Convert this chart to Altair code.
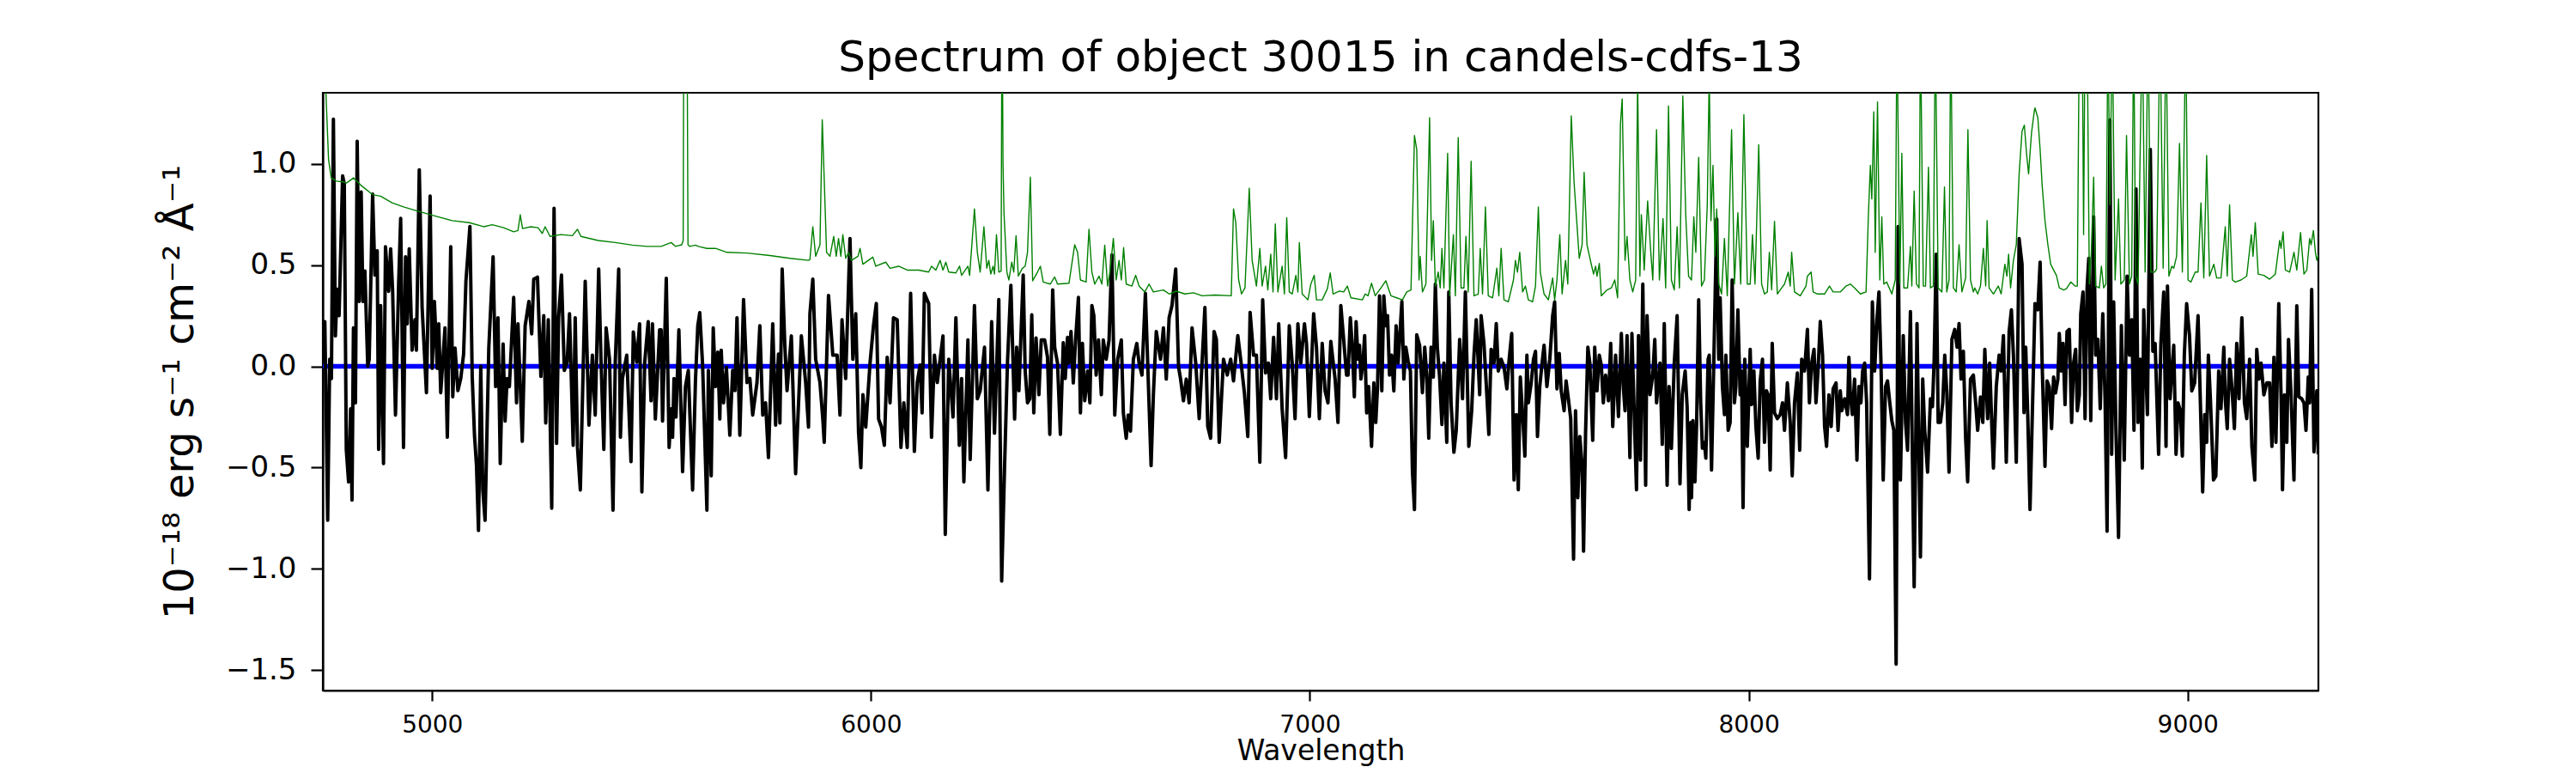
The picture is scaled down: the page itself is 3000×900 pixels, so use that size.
import altair as alt
import pandas as pd

title_text = "Spectrum of object 30015 in candels-cdfs-13"
x_label = "Wavelength"
y_label = "10⁻¹⁸ erg s⁻¹ cm⁻² Å⁻¹"
x_ticks = [5000, 6000, 7000, 8000, 9000]
y_ticks = [-1.5, -1.0, -0.5, 0.0, 0.5, 1.0]
x_range = [4751, 9298]
y_range = [-1.6, 1.35]
zero_level = [0.0, 0.0]

# object flux (black): (wavelength, flux)
flux_points = [
    (4751, 0.03), (4755.5, 0.22), (4762, -0.76), (4766.6, 0.035), (4770.5, -0.06), (4775, 1.22),
    (4779.6, 0.15), (4783.5, 0.38), (4788, 0.25), (4796, 0.94), (4799.8, 0.90), (4804.4, -0.41),
    (4809.6, -0.57), (4814.2, -0.21), (4817.4, -0.66), (4820.7, 0.19), (4825.3, -0.18), (4829.2, 1.11),
    (4833.7, 0.32), (4838.3, 0.86), (4842.2, 0.32), (4846.8, 0.47), (4853.3, 0.0), (4856.6, 0.035),
    (4864.4, 0.85), (4869.6, 0.45), (4874.8, 0.57), (4878.1, -0.41), (4882.6, 0.30), (4889.2, -0.48),
    (4893.7, 0.59), (4900.9, 0.37), (4905.5, 0.58), (4910, 0.37), (4916.5, -0.24), (4923.7, 0.41),
    (4928.3, 0.73), (4934.8, -0.40), (4939.4, 0.54), (4943.3, 0.21), (4947.8, 0.58), (4954.4, 0.08),
    (4960.9, 0.23), (4964.1, 0.08), (4970.7, 0.97), (4977.2, 0.29), (4987, -0.13), (4995.4, 0.84),
    (5000, -0.01), (5005.2, 0.32), (5011.7, -0.01), (5015, 0.21), (5019.6, -0.13), (5029.3, 0.19),
    (5034.6, -0.35), (5042.4, 0.59), (5047, -0.15), (5052.2, 0.09), (5058.7, -0.12), (5065.2, -0.06),
    (5071.7, 0.06), (5077, 0.42), (5086.1, 0.69), (5091.3, -0.05), (5096.5, -0.34), (5101.1, -0.49),
    (5105.6, -0.81), (5110.8, 0.0), (5115.4, -0.61), (5120.6, -0.76), (5129.1, 0.09), (5138.9, 0.54),
    (5144.7, -0.10), (5150, 0.24), (5155.2, -0.48), (5161.7, 0.11), (5166.3, -0.27), (5170.8, -0.06),
    (5176, -0.10), (5185.8, 0.34), (5192.3, -0.18), (5195.6, 0.21), (5205.4, -0.37), (5211.9, 0.20),
    (5220.4, 0.32), (5226.9, 0.16), (5231.5, 0.43), (5240, 0.44), (5247.8, -0.05), (5254.3, 0.25),
    (5258.8, -0.28), (5264.7, 0.23), (5272.5, -0.70), (5277.8, 0.78), (5283.6, -0.38), (5288.2, 0.24),
    (5294.7, 0.45), (5301.2, -0.02), (5307.7, 0.02), (5313, 0.26), (5321.4, -0.39), (5326, 0.24),
    (5331.2, -0.40), (5337.7, -0.61), (5348.8, 0.42), (5357.3, -0.29), (5365.1, 0.055), (5371.6, -0.24),
    (5379.5, 0.48), (5384.7, 0.035), (5391.2, -0.41), (5396.4, 0.19), (5404.2, 0.035), (5412.1, -0.71),
    (5417.3, 0.02), (5425.1, 0.48), (5429, -0.35), (5433.6, -0.06), (5443.4, 0.055), (5453.1, -0.47),
    (5458.4, 0.17), (5466.2, 0.02), (5472.7, 0.21), (5477.9, -0.62), (5484.4, 0.02), (5492.3, 0.22),
    (5498.8, -0.17), (5502, 0.21), (5508.6, -0.26), (5518.3, 0.18),
    (5521.8, 0.18), (5525, -0.27), (5533.5, 0.435), (5540, -0.40), (5544.6, -0.21), (5547.9, -0.35),
    (5551.1, -0.06), (5555.7, -0.25), (5562.2, 0.18), (5570.7, -0.52), (5577.2, -0.10), (5583.7, -0.02),
    (5593.5, -0.61), (5600, -0.07), (5605.3, 0.20), (5609.8, 0.265), (5616.3, 0.006), (5626.1, -0.71),
    (5629.4, -0.02), (5635.9, -0.54), (5640.5, 0.19), (5645.7, -0.10), (5650.9, 0.07), (5655.5, -0.26),
    (5658.7, 0.08), (5664, -0.18), (5670.5, -0.004), (5678.3, -0.34), (5684.8, -0.02), (5690, -0.12),
    (5694.6, 0.24), (5701.1, -0.34), (5709.6, 0.33), (5717.4, -0.08), (5724, -0.06), (5730.4, -0.24),
    (5740.2, -0.08), (5746.7, 0.20), (5753.3, -0.24), (5759.8, -0.18), (5766.3, -0.45), (5776.1, 0.21),
    (5782.6, -0.29), (5789.1, 0.06), (5792.4, -0.28), (5797.6, 0.48), (5803.5, 0.11), (5808.7, -0.12),
    (5818.5, 0.15), (5828.2, -0.53), (5841.3, 0.15), (5851.1, -0.08), (5857.6, -0.30), (5860.8, 0.26),
    (5867.4, 0.43), (5873.9, 0.035), (5883.7, -0.08), (5890.2, -0.26), (5893.4, -0.375), (5903.2, 0.35),
    (5913, 0.055), (5922.8, 0.055), (5929.3, -0.24), (5933.9, 0.23), (5942.3, -0.06), (5952.1, 0.63),
    (5958.6, 0.035), (5965.2, 0.26), (5971.7, -0.33), (5976.9, -0.50), (5981.5, -0.14), (5988, -0.30),
    (5997.8, 0.016), (6005.6, 0.20), (6012.1, 0.31), (6017.3, -0.26), (6023.8, -0.30), (6030.4, -0.39),
    (6036.9, 0.045), (6043.4, -0.18), (6051.2, 0.24), (6059.7, 0.23), (6068.2, -0.40), (6074.7, -0.18),
    (6082.5, -0.40), (6090.3, 0.36), (6098.8, -0.42), (6105.3, -0.08), (6111.9, 0.006), (6116.4, -0.23),
    (6121.6, 0.36), (6131.4, 0.31), (6137.9, -0.35), (6144.5, 0.055), (6151, -0.08), (6157.5, 0.035),
    (6164, 0.15), (6169.2, -0.83), (6177.1, 0.035), (6186.8, -0.25), (6193.4, 0.24), (6201.2, -0.39),
    (6206.4, -0.06), (6211.6, -0.57), (6220.8, 0.13), (6226, -0.46), (6235.7, 0.30), (6242.3, -0.16),
    (6248.8, -0.12), (6258.6, 0.094), (6266.4, -0.61), (6274.9, 0.22), (6281.4, -0.33), (6291.2, 0.33),
    (6297.7, -1.06),
    (6304.4, -0.49), (6310.9, 0.016), (6318.7, 0.40), (6327.2, -0.26), (6331.8, 0.094), (6337, -0.12),
    (6346.8, 0.45), (6351.3, -0.023), (6356.6, -0.18), (6361.8, -0.16), (6366.3, 0.254), (6370.9, -0.23),
    (6376.1, 0.14), (6382.6, -0.14), (6387.9, 0.13), (6395.7, 0.13), (6402.2, 0.045), (6407.4, -0.336),
    (6414, 0.377), (6418.5, 0.094), (6425, 0.016), (6431.5, -0.336), (6438.1, 0.117), (6442.6, -0.06),
    (6447.8, 0.143), (6451.1, 0.016), (6455.7, 0.172), (6460.9, -0.082), (6466.1, 0.13), (6472.6, 0.34),
    (6477.2, -0.23), (6481.7, 0.113), (6487, -0.17), (6493.5, -0.023), (6498.7, -0.18), (6503.3, 0.30),
    (6507.8, 0.25), (6513, -0.043), (6518.3, 0.13), (6524.8, -0.14), (6529.3, 0.13), (6535.9, 0.035),
    (6542.4, 0.13), (6548.9, 0.55), (6555.4, -0.24), (6562, 0.035), (6570.4, 0.13), (6575, -0.23),
    (6581.5, -0.355), (6586.1, -0.24), (6591.3, -0.32), (6597.8, 0.035), (6605.6, 0.113), (6610.8, 0.016),
    (6617.4, -0.043), (6625.2, 0.36), (6638.2, -0.49), (6643.4, -0.14), (6650, 0.172), (6659.7, 0.035),
    (6666.3, 0.19), (6672.8, -0.063), (6679.3, 0.24), (6685.8, 0.30), (6694.3, 0.48), (6700.8, -0.004),
    (6705.4, -0.063), (6711.9, -0.17), (6718.4, -0.063), (6724.9, -0.18), (6731.5, 0.19), (6739.9, 0.016),
    (6747.8, -0.258), (6760.8, 0.29), (6767.3, -0.297), (6773.8, -0.355), (6781.7, 0.172), (6786.9, 0.133),
    (6793.4, -0.375), (6803.2, 0.035), (6811.7, -0.043), (6819.5, 0.035), (6826, -0.072), (6835.8, 0.152),
    (6842.3, 0.035), (6850.8, -0.13), (6858.6, -0.346), (6863.8, 0.266), (6871.6, 0.055), (6878.2, 0.055),
    (6886, -0.473), (6892.5, 0.328), (6899, -0.033), (6905.5, 0.016), (6910.8, -0.16), (6917.3, 0.143),
    (6923.8, -0.16), (6929, 0.21), (6936.8, -0.21), (6944.7, -0.45), (6953.1, 0.20), (6959.7, 0.016),
    (6966.2, -0.258), (6972.7, 0.21), (6979.2, 0.016), (6987.7, 0.21), (6992.3, 0.113), (6998.8, -0.248),
    (7008.6, 0.26), (7015.1, 0.094), (7021.6, -0.258), (7028.1, 0.113), (7034.6, -0.121), (7041.2, -0.18),
    (7047.7, 0.123), (7057.5, -0.063), (7064, -0.277), (7070.5, 0.30), (7077, 0.133), (7083.5, -0.043),
    (7087, -0.043), (7092.2, 0.24), (7096.8, 0.094), (7101.3, -0.15), (7105.3, 0.22), (7109.8, 0.035),
    (7113.1, 0.104), (7116.3, -0.063), (7120.9, 0.016), (7124.8, 0.152), (7129.4, -0.23), (7133.9, -0.10),
    (7140.5, -0.395), (7145.7, -0.082), (7150.2, -0.277), (7154.2, -0.10), (7158.7, 0.348), (7163.9, -0.121),
    (7168.5, 0.348), (7173.1, 0.20), (7177, 0.25), (7181.5, -0.043), (7186.1, 0.055), (7191.3, -0.121),
    (7196.5, 0.20), (7201.1, 0.016), (7204.4, 0.133), (7209.6, 0.32), (7214.1, -0.063), (7218.7, 0.094),
    (7223.9, 0.025), (7229.1, -0.023), (7233.7, -0.52), (7238.3, -0.707), (7243.5, 0.156), (7250, 0.104),
    (7256.5, -0.13), (7261.7, 0.094), (7266.3, -0.043), (7270.9, -0.355), (7276.1, 0.094), (7281.3, -0.053),
    (7285.9, 0.406), (7290.4, 0.094), (7295.6, -0.053), (7300.9, -0.287), (7305.4, 0.016), (7311.9, -0.375),
    (7316.5, 0.367), (7321.7, -0.18), (7328.2, -0.424), (7333.5, -0.316), (7341.3, 0.133), (7347.8, -0.16),
    (7354.3, 0.367), (7362.1, -0.395), (7368.7, -0.219), (7373.9, 0.055), (7379.1, 0.23), (7386.9, -0.14),
    (7390.2, 0.25), (7396.7, 0.113), (7403.2, -0.14), (7407.8, -0.336), (7413, 0.084), (7419.5, 0.016),
    (7424.7, 0.211), (7429.3, -0.023), (7435.8, 0.035), (7442.3, -0.004), (7448.9, -0.111), (7454.1, 0.035),
    (7459.9, 0.162), (7465.2, -0.561), (7470.4, -0.238), (7474.9, -0.609), (7479.5, -0.053), (7484.7, -0.238),
    (7489.9, -0.443), (7494.5, 0.055), (7497.8, -0.18), (7504.3, -0.082), (7509.5, 0.035), (7514.1, 0.074),
    (7518.6, -0.346), (7523.8, -0.10), (7529.1, 0.016), (7533.6, 0.104), (7540.1, -0.10), (7546.7, 0.035),
    (7553.2, 0.25), (7557.7, 0.318), (7563, -0.111), (7568.2, 0.064), (7572.7, -0.121), (7579.3, -0.219),
    (7583.8, -0.072), (7589, -0.16), (7594.3, -0.258), (7600.8, -0.951), (7605.3, -0.219), (7610.6, -0.648),
    (7615.1, -0.346), (7620.3, -0.49), (7623.6, -0.912), (7628.2, -0.326), (7633.4, 0.094), (7637.9, 0.016),
    (7644.5, -0.365), (7649, 0.094), (7654.2, -0.121), (7659.5, 0.055), (7664, 0.006), (7668.6, -0.18),
    (7673.8, -0.043), (7680.3, -0.17), (7685.5, 0.113), (7690.1, -0.297), (7696.6, 0.055), (7703.1, -0.248),
    (7709.7, 0.162), (7714.2, -0.10), (7718.1, -0.219), (7722.7, 0.152), (7729.2, -0.45), (7733.8, 0.162),
    (7739, -0.229), (7744.2, -0.609), (7748.8, 0.152), (7753.3, -0.463), (7758.6, 0.406), (7765.1, -0.587),
    (7768.3, 0.25), (7774.9, -0.14), (7781.4, -0.043), (7785.9, 0.133), (7789.9, -0.18), (7797.7, 0.016),
    (7802.9, -0.385), (7807.5, 0.211), (7814, -0.587), (7818.5, -0.10), (7823.8, -0.405), (7830.3, 0.016),
    (7836.8, 0.25), (7843.3, -0.58), (7848.5, -0.14), (7855.1, -0.023), (7859.6, -0.20), (7864.2, -0.707),
    (7868.1, -0.277),
    (7869.6, -0.648), (7872.9, -0.268), (7877.4, -0.57), (7881.3, -0.277), (7885.9, 0.328), (7890.5, -0.18),
    (7894.4, -0.404), (7898.9, -0.375), (7902.2, -0.453), (7907.4, 0.035), (7910, 0.055), (7915.2, -0.512),
    (7920.5, 0.035), (7927, 0.727), (7931.5, 0.035), (7934.8, 0.338), (7940, -0.10), (7944.6, -0.238),
    (7947.8, 0.055), (7953.1, -0.316), (7957.6, -0.277), (7962.2, 0.426), (7967.4, -0.18), (7970.7, -0.10),
    (7975.2, 0.279), (7980.4, -0.141), (7983.7, -0.023), (7987, -0.697), (7990.9, 0.035), (7996.7, -0.395),
    (8003.3, 0.084), (8006.5, -0.189), (8011.7, -0.023), (8016.3, -0.297), (8021.5, -0.453), (8026.1, -0.072),
    (8031.3, 0.035), (8035.9, -0.375), (8040.4, -0.121), (8044.3, -0.141), (8048.9, -0.512), (8053.5, 0.113),
    (8058.7, -0.229), (8065.2, -0.258), (8071.7, -0.238), (8077, -0.18), (8081.5, -0.316), (8088, -0.082),
    (8094.5, -0.277), (8099.1, -0.54), (8104.3, -0.18), (8110.8, -0.033), (8116.1, -0.414), (8120.6, 0.035),
    (8127.1, -0.023), (8133.7, 0.182), (8138.2, -0.18), (8143.4, 0.016), (8148.7, 0.084), (8153.2, -0.18),
    (8157.8, -0.023), (8163, 0.221), (8168.2, 0.055), (8172.8, -0.297), (8177.3, -0.395), (8182.6, -0.141),
    (8187.8, -0.297), (8192.3, -0.111), (8198.9, -0.082), (8203.4, -0.316), (8208.6, -0.121), (8211.9, -0.219),
    (8218.4, -0.16), (8225, -0.238), (8228.2, 0.045), (8231.5, -0.141), (8236, -0.238), (8241.2, -0.063),
    (8246.5, -0.463), (8251, -0.10), (8255.6, -0.18), (8259.5, -0.023), (8264.1, 0.016), (8268.6, -0.18),
    (8275.1, -1.049), (8281.7, 0.318), (8286.9, -0.023), (8292.1, 0.23), (8296.7, 0.367), (8301.2, 0.025),
    (8306.4, -0.561), (8311.7, -0.10), (8316.2, -0.072), (8321.4, -0.18), (8326, -0.268), (8330.6, -0.316),
    (8335.8, -1.47), (8340.3, 0.69), (8345.6, -0.561), (8352.1, 0.152), (8357.3, -0.277), (8361.9, -0.414),
    (8368.4, 0.27), (8376.9, -1.088), (8383.4, 0.211), (8391.2, -0.941), (8396.4, -0.063), (8401, -0.316),
    (8407.5, -0.522), (8414, -0.16), (8418.6, -0.199), (8422.5, 0.035), (8427.1, 0.553), (8431.6, -0.277),
    (8436.8, -0.277), (8442.1, -0.18), (8446.6, 0.055), (8451.2, -0.121), (8456.4, -0.522), (8462.9, 0.133),
    (8469.4, 0.182), (8474.7, 0.094), (8479.2, 0.211), (8483.8, -0.063), (8489, 0.074), (8494.2, -0.355),
    (8498.8, -0.57), (8505.3, -0.063), (8511.8, -0.043), (8517, -0.18), (8521.6, -0.316), (8528.1, -0.151),
    (8533.3, -0.277), (8537.9, 0.084), (8544.4, -0.258), (8549, 0.016), (8554.2, -0.316), (8557.5, -0.502),
    (8564, -0.10), (8570.5, 0.055), (8575.1, -0.023), (8580.3, 0.152), (8586.8, -0.473), (8593.3, 0.172),
    (8598.5, 0.279), (8603.1, 0.055), (8609.6, -0.473), (8616.1, 0.63), (8622.7, 0.503), (8627.2, -0.229),
    (8631.1, 0.094), (8635.7, -0.238), (8640.9, -0.707), (8646.8, -0.18),
    (8652.2, 0.309), (8658.7, 0.279), (8663.9, 0.514), (8668.5, 0.016), (8675, -0.494), (8679.6, -0.072),
    (8684.8, -0.102), (8690, -0.307), (8694.6, -0.053), (8699.1, -0.131), (8704.4, -0.063), (8707.6, 0.162),
    (8712.2, -0.023), (8716.1, 0.113), (8720.7, -0.189), (8725.2, 0.172), (8730.4, 0.182), (8735.7, -0.277),
    (8740.2, 0.016), (8744.8, 0.084), (8748.7, -0.219), (8753.3, -0.141), (8756.5, 0.26), (8761.7, 0.367),
    (8766.3, -0.258), (8770.9, 0.387), (8774.8, 0.533), (8779.3, -0.268), (8785.9, 0.738), (8790.4, 0.055),
    (8795.6, 0.133), (8800.9, -0.209), (8806.7, 0.26), (8811.9, -0.16), (8816.5, -0.814), (8823, 1.217),
    (8826.9, -0.434), (8831.5, 0.318), (8836.7, -0.316), (8842.6, -0.844), (8849.1, 0.201), (8855.6, -0.463),
    (8862.1, 0.445), (8867.4, 0.055), (8872.6, 0.23), (8877.8, -0.316), (8882.4, 0.875), (8887, -0.277),
    (8892.1, 0.035), (8896.7, -0.502), (8900, 0.279), (8908.4, -0.238), (8915, 1.07), (8920.8, 0.074),
    (8926, 0.113), (8933.9, -0.434), (8939.1, 0.113), (8945.6, 0.367), (8950.8, -0.395), (8954.1, 0.396),
    (8959.9, -0.16), (8968.4, 0.104), (8973.6, -0.434), (8978.2, -0.18), (8983.4, -0.219), (8988, -0.443),
    (8992.5, 0.055), (8997.8, 0.309), (9004.3, 0.152), (9009.5, -0.121), (9016, -0.082), (9023.8, 0.25),
    (9029.1, -0.18), (9034.3, -0.62), (9038.8, -0.238), (9043.4, -0.375), (9047.3, 0.055), (9051.9, -0.16),
    (9059, -0.561), (9064.3, -0.541), (9070.8, -0.023), (9076, -0.209), (9082.5, 0.094), (9085.8, -0.16),
    (9090.3, -0.307), (9095.6, 0.035), (9100.8, -0.102), (9106.6, -0.307), (9111.9, 0.113), (9117.1, -0.16),
    (9123.6, 0.24), (9129.5, -0.18), (9134.7, -0.258), (9141.2, 0.035), (9146.4, -0.395), (9153, -0.561),
    (9157.5, 0.084), (9162.7, -0.063), (9167.3, 0.016), (9173.8, -0.141), (9180.3, -0.082), (9186.8, -0.082),
    (9192.1, -0.395), (9196.6, 0.045), (9201.2, -0.375), (9207.7, 0.309), (9212.9, -0.141), (9216.2, -0.609),
    (9220.7, -0.141), (9226, -0.375), (9229.9, 0.133), (9235.7, -0.141), (9242.3, -0.561), (9248.8, 0.299),
    (9253.3, -0.15), (9259.9, -0.16), (9265.1, -0.18), (9269.7, -0.316), (9274.9, -0.053), (9278.1, -0.18),
    (9282.7, 0.379), (9287.9, -0.422), (9294.4, -0.121), (9297.7, -0.434),
]

# noise / sky spectrum (thin green): (wavelength, value)
sky_points = [
    (4751, 1.7), (4758, 1.35), (4764, 1.02), (4770, 0.93), (4782, 0.914), (4798, 0.91), (4804.4, 0.904),
    (4811, 0.914), (4820.7, 0.93), (4837, 0.895), (4859.8, 0.855), (4866.3, 0.846), (4882.6, 0.84),
    (4908.7, 0.807), (4934.8, 0.787), (4964.1, 0.768), (4987, 0.754), (5013, 0.738), (5045.6, 0.719),
    (5084.8, 0.709), (5117.4, 0.689), (5137, 0.699), (5163, 0.684), (5185.8, 0.664), (5195.6, 0.67),
    (5200.8, 0.748), (5206, 0.68), (5225, 0.689), (5241.2, 0.684), (5251, 0.656), (5257.5, 0.689),
    (5268.6, 0.641), (5293.4, 0.65), (5319.5, 0.645), (5331.2, 0.676), (5339, 0.641), (5378.2, 0.621),
    (5417.3, 0.611), (5456.4, 0.598), (5489, 0.592), (5521.8, 0.592), (5544.6, 0.611), (5554.4, 0.592),
    (5568.7, 0.60), (5572, 0.62), (5574, 2.2), (5580, 2.2), (5583, 0.60), (5587, 0.592), (5600, 0.598),
    (5606.6, 0.592), (5626, 0.582), (5645.7, 0.582), (5671.8, 0.5625), (5717.4, 0.559), (5769.6, 0.547),
    (5815.2, 0.533), (5857.6, 0.523), (5860.8, 0.527), (5867.4, 0.689), (5873.9, 0.543), (5883.7, 0.60),
    (5888.9, 1.217), (5893.4, 0.924), (5898.7, 0.5625), (5906.5, 0.543), (5915, 0.641), (5920.8, 0.543),
    (5926, 0.631), (5931.3, 0.543), (5935.8, 0.65), (5942.3, 0.533), (5948.9, 0.5625), (5955.4, 0.523),
    (5970.4, 0.543), (5975, 0.582), (5981.5, 0.504), (6004.3, 0.539), (6010.8, 0.494), (6033.6, 0.514),
    (6043.4, 0.484), (6063, 0.494), (6082.5, 0.475), (6108.6, 0.475), (6131.4, 0.465), (6137.9, 0.494),
    (6147.7, 0.475), (6157.5, 0.523), (6164, 0.475), (6170.5, 0.514), (6177.1, 0.465), (6193.4, 0.461),
    (6201.8, 0.494), (6206.4, 0.449), (6220.8, 0.494), (6224.7, 0.449), (6232.5, 0.68), (6235.7, 0.777),
    (6242.3, 0.5625), (6248.8, 0.465), (6257.3, 0.689), (6263.8, 0.484), (6268.4, 0.523), (6272.9, 0.455),
    (6278.1, 0.494), (6281.4, 0.455), (6285.9, 0.65), (6291.2, 0.465), (6296.5, 0.47), (6298.5, 1.9),
    (6300.8, 1.0), (6303, 0.758), (6309.6, 0.465), (6314.2, 0.426), (6320.7, 0.514), (6325.3, 0.465),
    (6330.5, 0.645), (6335.7, 0.445), (6344.8, 0.484), (6351.3, 0.494), (6356.6, 0.5625), (6363.1, 0.934),
    (6368.3, 0.422), (6379.4, 0.465), (6385.9, 0.494), (6392.4, 0.416), (6408.7, 0.406), (6418.5, 0.441),
    (6425, 0.406), (6451.1, 0.41), (6464.1, 0.60), (6470.7, 0.5625), (6477.2, 0.426), (6490.2, 0.416),
    (6496.7, 0.676), (6503.3, 0.465), (6509.8, 0.406), (6519.6, 0.445), (6526.1, 0.406), (6532.6, 0.598),
    (6539.1, 0.396), (6544.3, 0.465), (6552.2, 0.631), (6558.7, 0.426), (6565.2, 0.523), (6570.4, 0.426),
    (6575.6, 0.586), (6581.5, 0.406), (6594.5, 0.396), (6603, 0.449), (6610.8, 0.396), (6623.9, 0.367),
    (6633.6, 0.406), (6643.4, 0.367), (6666.3, 0.377), (6679.3, 0.357), (6695.6, 0.371), (6715.2, 0.357),
    (6734.7, 0.363), (6754.3, 0.348), (6783.6, 0.352), (6820.8, 0.348), (6826, 0.777), (6831.2, 0.709),
    (6837.7, 0.426), (6844.3, 0.357), (6852.1, 0.387), (6861.9, 0.879), (6868.4, 0.523), (6878.2, 0.396),
    (6886, 0.582), (6891.2, 0.396), (6899, 0.494), (6904.2, 0.377), (6910.8, 0.553), (6916, 0.367),
    (6921.2, 0.703), (6927.1, 0.367), (6936.8, 0.494), (6942, 0.357), (6947.3, 0.734), (6953.1, 0.367),
    (6959.7, 0.357), (6968.1, 0.449), (6972.7, 0.367), (6976, 0.611), (6982.5, 0.357), (6995.5, 0.328),
    (7002.2, 0.406), (7009.9, 0.449), (7015.1, 0.328), (7028.1, 0.328), (7039.9, 0.383), (7046.4, 0.461),
    (7052.9, 0.357), (7067.2, 0.371), (7077, 0.367), (7085.5, 0.396), (7093.5, 0.338), (7119.6, 0.328),
    (7126.1, 0.357), (7132.6, 0.348), (7140.5, 0.41), (7148.9, 0.348), (7162, 0.387), (7173.1, 0.422),
    (7184.8, 0.348), (7197.8, 0.338), (7210.9, 0.328), (7220.7, 0.367), (7230.4, 0.377), (7238.3, 1.139),
    (7243.5, 1.07), (7248.7, 0.426), (7251.3, 0.543), (7256.5, 0.367), (7264.3, 0.406), (7272.8, 1.227),
    (7277.4, 0.523), (7281.3, 0.719), (7285.9, 0.396), (7292.4, 0.465), (7297, 0.387), (7300.9, 0.582),
    (7305.4, 0.387), (7313.9, 1.051), (7318.5, 0.348), (7327, 0.65), (7331.5, 0.348), (7338, 1.129),
    (7344.5, 0.387), (7351, 0.387), (7355.6, 0.641), (7360.8, 0.367), (7367.4, 1.012), (7373.9, 0.348),
    (7383.7, 0.357), (7388.2, 0.582), (7393.4, 0.357), (7400, 0.787), (7406.5, 0.348), (7416.3, 0.338),
    (7426, 0.484), (7430.6, 0.348), (7435.8, 0.582), (7442.3, 0.328), (7452.1, 0.318), (7463.9, 0.426),
    (7468.4, 0.523), (7473, 0.465), (7478.2, 0.5625), (7484.7, 0.367), (7491.2, 0.396), (7497.8, 0.328),
    (7507.5, 0.318), (7514.1, 0.396), (7520.6, 0.787), (7525.1, 0.465), (7533.6, 0.357), (7543.4, 0.328),
    (7553.2, 0.436), (7557.7, 0.328), (7563, 0.426), (7569.5, 0.65), (7574.7, 0.357), (7582.5, 0.523),
    (7587.7, 0.406), (7595.6, 1.236), (7602.1, 0.904), (7608.6, 0.699), (7613.8, 0.533), (7620.3, 0.60),
    (7624.9, 0.957), (7631.4, 0.60), (7640.1, 0.514), (7646.4, 0.455), (7651, 0.494), (7654.2, 0.445),
    (7659.5, 0.508), (7664, 0.348), (7677.1, 0.377), (7687, 0.387), (7694.7, 0.426), (7701.2, 0.338),
    (7707.7, 1.197), (7711.6, 1.32), (7718.1, 0.523), (7722.7, 0.641), (7729.2, 0.426), (7735.7, 0.367),
    (7742.3, 0.426), (7746.8, 1.42), (7752, 0.445), (7755.3, 0.748), (7761.8, 0.475), (7769.6, 0.816),
    (7776.8, 0.5625), (7781.4, 0.426), (7789.9, 1.168), (7796.4, 0.426), (7804.7, 0.729), (7810.7, 0.387),
    (7817.2, 1.285), (7823.8, 0.426), (7830.3, 0.377), (7836.8, 0.689), (7842, 0.387), (7849.8, 1.334),
    (7856.4, 0.748), (7862.9, 0.445), (7869.6, 0.426), (7874.8, 0.738), (7879.4, 0.5625), (7885.9, 1.031),
    (7892.4, 0.396), (7898.9, 0.426), (7905.5, 0.797), (7910, 1.45), (7913.9, 0.719), (7918.5, 0.992),
    (7923, 0.543), (7927, 0.777), (7931.5, 0.406), (7938.1, 0.357), (7944.6, 0.631), (7951.1, 0.348),
    (7960.9, 1.168), (7967.4, 0.406), (7975.2, 0.758), (7981.7, 0.406), (7988.9, 1.242), (7996.7, 0.406),
    (8003.3, 0.406), (8008.5, 0.65), (8014.3, 0.406), (8022.8, 1.094), (8029.3, 0.406), (8035.9, 0.357),
    (8042.4, 0.367), (8046.9, 0.5625), (8052.2, 0.377), (8058.7, 0.715), (8065.2, 0.357), (8075, 0.387),
    (8081.5, 0.406), (8090, 0.465), (8094.5, 0.396), (8097.8, 0.5625), (8104.3, 0.367), (8117.4, 0.348),
    (8130.4, 0.396), (8133.7, 0.445), (8142.1, 0.465), (8146.7, 0.367), (8156.5, 0.357), (8172.8, 0.357),
    (8183.9, 0.396), (8192.3, 0.367), (8208.6, 0.367), (8221.7, 0.396), (8231.5, 0.406), (8241.2, 0.387),
    (8254.3, 0.357), (8267.3, 0.367), (8272.5, 0.738), (8277.1, 0.992), (8280.4, 0.826), (8284.9, 1.256),
    (8288.2, 0.5625), (8293.4, 1.305), (8298.6, 0.426), (8303.2, 0.738), (8307.7, 0.406), (8314.3, 0.416),
    (8326, 0.357), (8333.8, 0.426), (8337.7, 1.7), (8344.3, 0.406), (8348.8, 1.051), (8353.4, 0.387),
    (8361.8, 0.387), (8368.4, 0.592), (8371.6, 0.396), (8376.9, 0.865), (8382.1, 0.406), (8388, 0.387),
    (8391.2, 1.7), (8397.7, 0.396), (8402.9, 0.396), (8409.5, 0.982), (8414, 0.387), (8420.5, 0.396),
    (8425.1, 1.7), (8431.6, 0.387), (8440.1, 0.367), (8446, 0.885), (8451.2, 0.367), (8456.4, 0.426),
    (8460.3, 1.7), (8466.2, 0.387), (8472.7, 0.367), (8479.2, 0.60), (8485.7, 0.367), (8494.2, 0.436),
    (8499.4, 1.168), (8505.3, 0.426), (8511.8, 0.367), (8515.1, 0.387), (8521.6, 0.357), (8528.1, 0.396),
    (8534.6, 0.582), (8539.9, 0.396), (8543.1, 0.719), (8547.7, 0.387), (8557.5, 0.357), (8568.6, 0.396),
    (8575.1, 0.357), (8583.6, 0.504), (8588.2, 0.445), (8592.1, 0.553), (8596.6, 0.387), (8603.1, 0.523),
    (8609.6, 0.60), (8616.1, 0.95), (8622.7, 1.16), (8628, 1.19), (8633, 1.05), (8637.6, 0.95),
    (8644.2, 1.15), (8650.7, 1.26), (8652.2, 1.275), (8658.7, 1.227), (8663.9, 1.07), (8668.5, 0.895),
    (8675, 0.719), (8681.5, 0.602), (8688, 0.504), (8692.6, 0.484), (8701.1, 0.449), (8707.6, 0.387),
    (8717.4, 0.377), (8723.9, 0.383), (8733.7, 0.416), (8743.5, 0.396), (8748.7, 0.396), (8753.3, 1.7),
    (8757, 1.5), (8759.8, 1.7), (8763, 0.65), (8766.3, 1.7), (8770.9, 1.7), (8776.1, 0.406),
    (8780.6, 0.5625), (8785.9, 0.934), (8790.4, 0.396), (8798.9, 0.387), (8803.5, 0.494), (8808.7, 0.387),
    (8813.9, 0.406), (8818.5, 1.7), (8823, 0.797), (8828.2, 1.7), (8834.8, 0.426), (8842.6, 0.826),
    (8847.8, 0.406), (8855.6, 0.426), (8860.8, 1.139), (8867.4, 0.406), (8872.6, 0.445), (8877.1, 1.7),
    (8881.7, 0.445), (8887, 0.406), (8896.7, 1.7), (8903.2, 0.465), (8909.7, 1.7), (8916.3, 0.465),
    (8924.7, 0.465), (8929.3, 0.48), (8937.1, 1.7), (8944.3, 0.484), (8950.8, 1.7), (8957.3, 0.445),
    (8963.9, 0.494), (8968.4, 0.484), (8974.9, 0.543), (8981.5, 1.10), (8988, 0.465), (8995.8, 1.7),
    (9001, 0.426), (9007.5, 0.416), (9017.3, 0.465), (9023.8, 0.465), (9030.4, 0.807), (9036.9, 0.436),
    (9043.4, 1.041), (9049.9, 0.445), (9059.7, 0.504), (9066.2, 0.436), (9076, 0.436), (9085.8, 0.689),
    (9090.3, 0.445), (9095.6, 0.797), (9102.1, 0.426), (9108.6, 0.416), (9121.6, 0.426), (9134.7, 0.445),
    (9145.1, 0.65), (9149, 0.543), (9154.2, 0.709), (9160.8, 0.455), (9173.8, 0.449), (9186.8, 0.43),
    (9199.9, 0.455), (9209.7, 0.621), (9212.9, 0.582), (9217.5, 0.664), (9222.7, 0.475), (9232.5, 0.465),
    (9242.3, 0.5625), (9248.8, 0.475), (9257.3, 0.66), (9265.1, 0.455), (9271.6, 0.475), (9278.1, 0.631),
    (9281.4, 0.60), (9286.6, 0.67), (9291.2, 0.5625), (9294.4, 0.523), (9298, 0.55),
]

flux_df = pd.DataFrame(flux_points, columns=["wave", "value"]).sort_values("wave")
sky_df = pd.DataFrame(sky_points, columns=["wave", "value"]).sort_values("wave")
zero_df = pd.DataFrame({"wave": x_range, "value": zero_level})
title_df = pd.DataFrame({"label": [title_text]})

FONT = "DejaVu Sans"
PLOT_W = 2324
PLOT_H = 696

x_enc = alt.X(
    "wave:Q",
    scale=alt.Scale(domain=x_range, nice=False, zero=False),
    axis=alt.Axis(
        values=x_ticks, format="d", labelFontSize=28, tickSize=12, labelPadding=14,
        title=x_label, titleFontSize=33, titleX=PLOT_W / 2, titleY=54, titleBaseline="top",
        titleAlign="center", labelFlush=False, labelOverlap=False,
    ),
)
y_enc = alt.Y(
    "value:Q",
    scale=alt.Scale(domain=y_range, nice=False, zero=False),
    axis=alt.Axis(
        values=y_ticks, format=".1f", labelFontSize=34, tickSize=14, labelPadding=17,
        title=y_label, titleFontSize=48, titleX=-142, titleY=PLOT_H / 2, titleBaseline="bottom",
        titleAlign="center", titleAngle=270, labelFlush=False, labelOverlap=False,
    ),
)

zero_line = alt.Chart(zero_df).mark_line(color="#0000ff", strokeWidth=5.6, clip=True).encode(
    x=x_enc, y=y_enc
)
flux_line = alt.Chart(flux_df).mark_line(
    color="#000000", strokeWidth=4, strokeJoin="round", clip=True
).encode(x=x_enc, y=y_enc, order="wave:Q")
sky_line = alt.Chart(sky_df).mark_line(
    color="#008000", strokeWidth=1.4, strokeJoin="round", clip=True
).encode(x=x_enc, y=y_enc, order="wave:Q")
title_mark = alt.Chart(title_df).mark_text(
    font=FONT, fontSize=50, color="black", align="center", baseline="alphabetic"
).encode(text="label:N", x=alt.value(PLOT_W / 2), y=alt.value(-25))

chart = (
    alt.layer(zero_line, flux_line, sky_line, title_mark)
    .properties(
        width=PLOT_W,
        height=PLOT_H,
        autosize=alt.AutoSizeParams(type="none"),
        padding={"left": 368, "top": 100, "right": 292, "bottom": 100},
        background="white",
    )
    .configure_view(stroke="black", strokeWidth=2.2)
    .configure_axis(
        grid=False, domainColor="black", domainWidth=2.2, tickColor="black", tickWidth=2.2,
        labelColor="black", titleColor="black", labelFont=FONT, titleFont=FONT,
        titleFontWeight="normal",
    )
)

chart.save("out.html", embed_options={"renderer": "svg", "actions": False})
